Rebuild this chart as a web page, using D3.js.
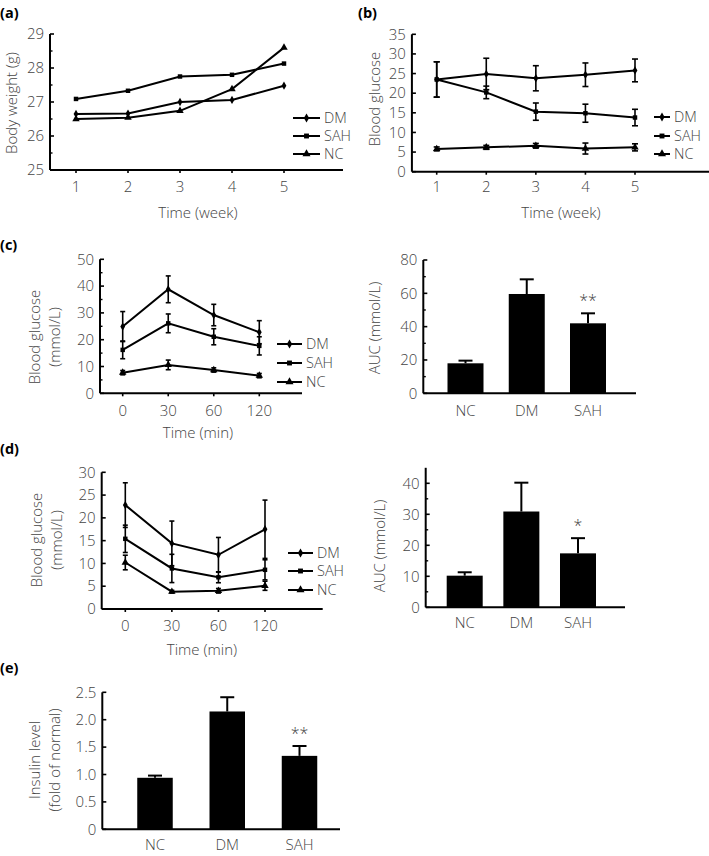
<!DOCTYPE html>
<html><head><meta charset="utf-8">
<script src="https://cdn.jsdelivr.net/npm/d3@7"></script>
<style>
body{margin:0;background:#fff;}
svg text{font-family:"Open Sans","Noto Sans",sans-serif;fill:#444;font-weight:300;}
</style></head><body>
<svg id="c" width="709" height="856"></svg>
<script>
// ---------- DATA ----------
const groups = ["DM","SAH","NC"];
const weeks = [1,2,3,4,5];
const weightDM  = [26.65,26.66,27.0,27.06,27.48];
const weightSAH = [27.09,27.33,27.75,27.80,28.13];
const weightNC  = [26.50,26.54,26.74,27.38,28.60];

const glucDM  = [23.5,24.9,23.8,24.7,25.8];
const glucDMerr = [4.5,4.0,3.2,3.0,2.9];
const glucSAH = [23.5,20.2,15.3,14.9,13.8];
const glucSAHerr = [4.5,1.6,2.2,2.3,2.1];
const glucNC  = [5.8,6.2,6.6,5.9,6.2];
const glucNCerr = [0.5,0.5,0.6,1.4,0.9];

const ogttTimes = ["0","30","60","120"];
const ogttDM = [24.9,38.8,29.2,22.8];
const ogttDMerr = [5.6,5.0,4.0,4.3];
const ogttSAH = [16.2,26.1,21.1,17.7];
const ogttSAHerr = [3.3,3.5,3.0,3.4];
const ogttNC = [7.7,10.6,8.7,6.6];
const ogttNCerr = [0.8,1.8,0.8,0.8];

const barGroups = ["NC","DM","SAH"];
const ogttAUC = [18.0,59.6,42.0];
const ogttAUCerr = [1.6,8.8,6.0];
const ogttStars = ["","","**"];

const ittDM = [22.8,14.4,11.9,17.5];
const ittDMerr = [4.9,4.9,3.8,6.4];
const ittSAH = [15.4,8.9,6.96,8.6];
const ittSAHerr = [3.0,3.1,1.2,2.2];
const ittNC = [10.2,3.8,4.0,5.1];
const ittNCerr = [1.6,0.3,0.5,1.0];

const ittAUC = [10.2,30.9,17.4];
const ittAUCerr = [1.1,9.3,4.9];
const ittStars = ["","","*"];

const insulin = [0.94,2.15,1.34];
const insulinErr = [0.04,0.26,0.18];
const insulinStars = ["","","**"];

// ---------- DRAW ----------
const svg = d3.select("#c");
const FS = 15;

function symbolFor(g){
  return g==="DM"?d3.symbolDiamond:(g==="SAH"?d3.symbolSquare:d3.symbolTriangle);
}

function yAxis(g, y, x0, ticks, minor, fmt, topVal){
  const top = topVal!=null ? y(topVal) : y(d3.max(ticks));
  g.append("line").attr("x1",x0).attr("x2",x0).attr("y1",top).attr("y2",y(y.domain()[0]))
   .attr("stroke","#000").attr("stroke-width",2);
  ticks.forEach(t=>{
    g.append("line").attr("x1",x0).attr("x2",x0+4).attr("y1",y(t)).attr("y2",y(t)).attr("stroke","#000").attr("stroke-width",1.6);
    g.append("text").attr("x",x0-6).attr("y",y(t)).attr("dy","0.35em").attr("text-anchor","end")
     .attr("font-size",FS).text(fmt?fmt(t):t);
  });
  (minor||[]).forEach(t=>{
    g.append("line").attr("x1",x0).attr("x2",x0+2.5).attr("y1",y(t)).attr("y2",y(t)).attr("stroke","#000").attr("stroke-width",1.4);
  });
}

function xAxis(g, yPix, x0, x1, tickPos, labels, labelY){
  g.append("line").attr("x1",x0).attr("x2",x1).attr("y1",yPix).attr("y2",yPix).attr("stroke","#000").attr("stroke-width",2);
  tickPos.forEach((p,i)=>{
    g.append("line").attr("x1",p).attr("x2",p).attr("y1",yPix).attr("y2",yPix+3).attr("stroke","#000").attr("stroke-width",1.6);
    g.append("text").attr("x",p).attr("y",labelY).attr("dy","0.35em").attr("text-anchor","middle")
     .attr("font-size",FS).text(labels[i]);
  });
}

function yTitle(lines, cx, cy){
  lines.forEach((l,i)=>{
    svg.append("text").attr("transform",`translate(${cx[i]},${cy}) rotate(-90)`)
      .attr("dy","0.35em").attr("text-anchor","middle").attr("font-size",FS).text(l);
  });
}
function xTitle(t, cx, cy){
  svg.append("text").attr("x",cx).attr("y",cy).attr("dy","0.35em").attr("text-anchor","middle").attr("font-size",FS).text(t);
}
function panelLabel(t,x,y){
  svg.append("text").attr("x",x).attr("y",y).attr("dy","0.35em").attr("font-size",14.5)
    .style("font-weight","bold").style("fill","#000").text(t);
}

function legend(x0, x1, ys){
  groups.forEach((gname,i)=>{
    svg.append("line").attr("x1",x0).attr("x2",x1).attr("y1",ys[i]).attr("y2",ys[i]).attr("stroke","#000").attr("stroke-width",2);
    svg.append("path").attr("d",d3.symbol().type(symbolFor(gname)).size(gname==="NC"?28:24)())
      .attr("transform",`translate(${(x0+x1)/2},${ys[i]})`).attr("fill","#000");
    svg.append("text").attr("x",x1+4).attr("y",ys[i]).attr("dy","0.35em").attr("font-size",14.5).text(gname);
  });
}

function series(g, x, y, xs, vals, errs, name, cap){
  const line = d3.line().x((d,i)=>x(xs[i])).y(d=>y(d));
  if(errs){
    vals.forEach((v,i)=>{
      const px = x(xs[i]);
      g.append("line").attr("x1",px).attr("x2",px).attr("y1",y(v-errs[i])).attr("y2",y(v+errs[i])).attr("stroke","#000").attr("stroke-width",1.6);
      [v-errs[i], v+errs[i]].forEach(e=>{
        g.append("line").attr("x1",px-cap).attr("x2",px+cap).attr("y1",y(e)).attr("y2",y(e)).attr("stroke","#000").attr("stroke-width",1.6);
      });
    });
  }
  g.append("path").attr("d",line(vals)).attr("fill","none").attr("stroke","#000").attr("stroke-width",2);
  vals.forEach((v,i)=>{
    g.append("path").attr("d",d3.symbol().type(symbolFor(name)).size(name==="NC"?24:20)())
      .attr("transform",`translate(${x(xs[i])},${y(v)})`).attr("fill","#000");
  });
}

function bars(g, x, y, vals, errs, stars, bw){
  vals.forEach((v,i)=>{
    const cx = x(i);
    g.append("line").attr("x1",cx).attr("x2",cx).attr("y1",y(v)).attr("y2",y(v+errs[i])).attr("stroke","#000").attr("stroke-width",2);
    g.append("line").attr("x1",cx-7).attr("x2",cx+7).attr("y1",y(v+errs[i])).attr("y2",y(v+errs[i])).attr("stroke","#000").attr("stroke-width",2);
    g.append("rect").attr("x",cx-bw/2).attr("width",bw).attr("y",y(v)).attr("height",y(0)-y(v)).attr("fill","#000");
    if(stars[i]) g.append("text").attr("x",cx).attr("y",y(v+errs[i])-7).attr("text-anchor","middle")
      .attr("font-size",16).text(stars[i]);
  });
}

// ----- (a) -----
{
  const g = svg.append("g");
  const x = d3.scaleLinear().domain([1,5]).range([76,284]);
  const y = d3.scaleLinear().domain([25,29]).range([170,34]);
  yAxis(g,y,x(0.5),[25,26,27,28,29],[25.5,26.5,27.5,28.5]);
  xAxis(g,y(25),x(0.5),343,weeks.map(x),weeks,187);
  series(g,x,y,weeks,weightDM,null,"DM",3);
  series(g,x,y,weeks,weightSAH,null,"SAH",3);
  series(g,x,y,weeks,weightNC,null,"NC",3);
  legend(293,320,[118,136,154]);
  yTitle(["Body weight (g)"],[12],103);
  xTitle("Time (week)",198,213);
  panelLabel("(a)",0,13);
}
// ----- (b) -----
{
  const g = svg.append("g");
  const x = d3.scaleLinear().domain([1,5]).range([436.7,635]);
  const y = d3.scaleLinear().domain([0,35]).range([171.7,34.3]);
  yAxis(g,y,x(0.5),[0,5,10,15,20,25,30,35],[]);
  xAxis(g,y(0),x(0.5),709,weeks.map(x),weeks,187);
  series(g,x,y,weeks,glucDM,glucDMerr,"DM",3);
  series(g,x,y,weeks,glucSAH,glucSAHerr,"SAH",3);
  series(g,x,y,weeks,glucNC,glucNCerr,"NC",3);
  legend(654,670,[117,136,154]);
  yTitle(["Blood glucose"],[375],99);
  xTitle("Time (week)",561,213);
  panelLabel("(b)",358,13);
}
// ----- (c) left -----
{
  const g = svg.append("g");
  const idx = [0,1,2,3];
  const x = d3.scaleLinear().domain([0,3]).range([122.7,259.3]);
  const y = d3.scaleLinear().domain([0,50]).range([393.3,259.3]);
  yAxis(g,y,100,[0,10,20,30,40,50],[5,15,25,35,45]);
  xAxis(g,y(0),100,302,idx.map(x),ogttTimes,411);
  series(g,x,y,idx,ogttDM,ogttDMerr,"DM",2.5);
  series(g,x,y,idx,ogttSAH,ogttSAHerr,"SAH",2.5);
  series(g,x,y,idx,ogttNC,ogttNCerr,"NC",2.5);
  legend(277,302,[344,363,382]);
  yTitle(["Blood glucose","(mmol/L)"],[35,55],337);
  xTitle("Time (min)",198,433);
  panelLabel("(c)",0,245);
}
// ----- (c) right -----
{
  const g = svg.append("g");
  const x = d3.scaleLinear().domain([0,2]).range([465.5,588]);
  const y = d3.scaleLinear().domain([0,80]).range([393.3,260]);
  bars(g,x,y,ogttAUC,ogttAUCerr,ogttStars,36);
  yAxis(g,y,423.3,[0,20,40,60,80],[10,30,50,70]);
  xAxis(g,y(0),423.3,636,[],[],411);
  barGroups.forEach((b,i)=>g.append("text").attr("x",x(i)).attr("y",411).attr("dy","0.35em").attr("text-anchor","middle").attr("font-size",FS).text(b));
  yTitle(["AUC (mmol/L)"],[375],328);
}
// ----- (d) left -----
{
  const g = svg.append("g");
  const idx = [0,1,2,3];
  const x = d3.scaleLinear().domain([0,3]).range([125.3,265]);
  const y = d3.scaleLinear().domain([0,30]).range([609,472.3]);
  yAxis(g,y,101.7,[0,5,10,15,20,25,30],[]);
  xAxis(g,y(0),101.7,322.7,idx.map(x),ogttTimes,626);
  series(g,x,y,idx,ittDM,ittDMerr,"DM",2.5);
  series(g,x,y,idx,ittSAH,ittSAHerr,"SAH",2.5);
  series(g,x,y,idx,ittNC,ittNCerr,"NC",2.5);
  legend(288,313,[553,571,590]);
  yTitle(["Blood glucose","(mmol/L)"],[37,57],540);
  xTitle("Time (min)",202,650);
  panelLabel("(d)",0,449);
}
// ----- (d) right -----
{
  const g = svg.append("g");
  const x = d3.scaleLinear().domain([0,2]).range([464.7,578]);
  const y = d3.scaleLinear().domain([0,40]).range([607.3,483.3]);
  bars(g,x,y,ittAUC,ittAUCerr,ittStars,36);
  yAxis(g,y,425.7,[0,10,20,30,40],[5,15,25,35],null,45);
  xAxis(g,y(0),425.7,625,[],[],623);
  barGroups.forEach((b,i)=>g.append("text").attr("x",x(i)).attr("y",623).attr("dy","0.35em").attr("text-anchor","middle").attr("font-size",FS).text(b));
  yTitle(["AUC (mmol/L)"],[380],546);
}
// ----- (e) -----
{
  const g = svg.append("g");
  const x = d3.scaleLinear().domain([0,2]).range([155,299.5]);
  const y = d3.scaleLinear().domain([0,2.5]).range([829.3,692.3]);
  bars(g,x,y,insulin,insulinErr,insulinStars,35.5);
  yAxis(g,y,102.3,[0,0.5,1,1.5,2,2.5],[],d=>d===0?"0":d3.format(".1f")(d));
  xAxis(g,y(0),102.3,340,[],[],845);
  barGroups.forEach((b,i)=>g.append("text").attr("x",x(i)).attr("y",845).attr("dy","0.35em").attr("text-anchor","middle").attr("font-size",FS).text(b));
  yTitle(["Insulin level","(fold of normal)"],[35,55],760);
  panelLabel("(e)",0,668);
}
</script>
</body></html>
